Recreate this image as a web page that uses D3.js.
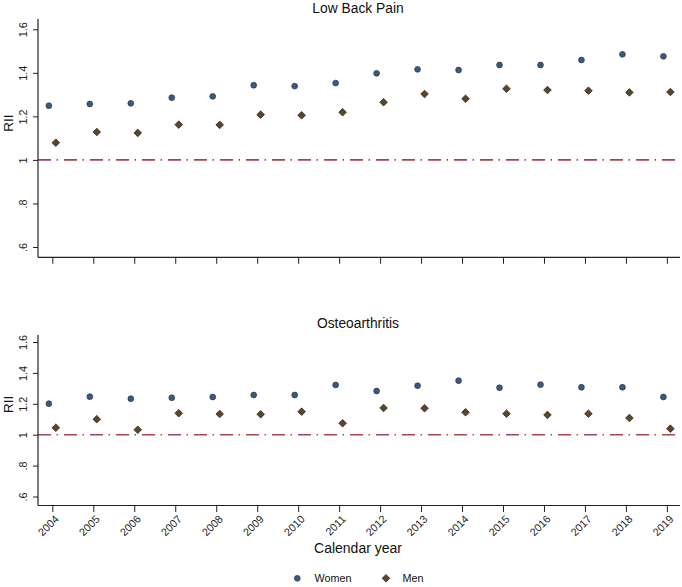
<!DOCTYPE html>
<html>
<head>
<meta charset="utf-8">
<script src="https://cdn.jsdelivr.net/npm/d3@7"></script>
<style>
  body { margin: 0; background: #fff; }
  svg { display: block; font-family: "Liberation Sans", Arial, Helvetica, sans-serif; }
</style>
</head>
<body>
<svg id="chart" width="682" height="587"></svg>
<script>
const years = [2004,2005,2006,2007,2008,2009,2010,2011,2012,2013,2014,2015,2016,2017,2018,2019];
const yTicks = [0.6, 0.8, 1.0, 1.2, 1.4, 1.6];
const yTickLabels = [".6", ".8", "1", "1.2", "1.4", "1.6"];
const panelTitles = ["Low Back Pain", "Osteoarthritis"];
const seriesNames = ["Women", "Men"];

const lbpWomen = [1.249,1.257,1.260,1.286,1.292,1.343,1.339,1.353,1.398,1.416,1.413,1.436,1.436,1.459,1.485,1.476];
const lbpMen   = [1.079,1.128,1.124,1.162,1.161,1.208,1.205,1.219,1.265,1.303,1.281,1.327,1.321,1.318,1.310,1.312];
const oaWomen  = [1.201,1.246,1.233,1.239,1.244,1.257,1.257,1.322,1.283,1.317,1.350,1.304,1.324,1.307,1.307,1.244];
const oaMen    = [1.045,1.100,1.032,1.139,1.134,1.132,1.149,1.074,1.173,1.171,1.145,1.136,1.128,1.136,1.108,1.039];

const svg = d3.select("#chart");
const womenFill = "#3b5b7e", womenStroke = "#1f3550";
const menFill = "#5a472a", menStroke = "#2a2010";
const refColor = "#a8444e";

const x = d3.scaleLinear().domain([2003.65, 2019.32]).range([38, 680]);
const offset = 0.085;

const panels = [
  { title: panelTitles[0], women: lbpWomen, men: lbpMen, top: 19, bottom: 257.3,
    y: d3.scaleLinear().domain([0.6, 1.6]).range([247, 29.3]), titleY: 12.5, labels: false },
  { title: panelTitles[1], women: oaWomen, men: oaMen, top: 335, bottom: 505.5,
    y: d3.scaleLinear().domain([0.6, 1.6]).range([496.5, 342]), titleY: 328, labels: true }
];

panels.forEach(p => {
  const g = svg.append("g");
  g.append("text").attr("x", 358).attr("y", p.titleY).attr("text-anchor", "middle")
    .attr("font-size", 13.8).attr("fill", "#111").text(p.title);

  g.append("line").attr("x1", x.range()[0]).attr("x2", x.range()[1])
    .attr("y1", p.y(1)).attr("y2", p.y(1))
    .attr("stroke", refColor).attr("stroke-width", 1.6)
    .attr("stroke-dasharray", "13,5.5,1.5,6");

  const yAxis = d3.axisLeft(p.y).tickValues(yTicks).tickSize(5).tickPadding(10)
    .tickFormat((d, i) => yTickLabels[i]);
  const ya = g.append("g").attr("transform", `translate(${x.range()[0]},0)`).call(yAxis);
  ya.select(".domain").remove();
  ya.append("line").attr("x1", 0).attr("x2", 0).attr("y1", p.top).attr("y2", p.bottom)
    .attr("stroke", "#222").attr("stroke-width", 1.2);
  ya.selectAll(".tick line").attr("stroke", "#222");
  ya.selectAll(".tick text")
    .attr("font-size", 10.8).attr("fill", "#222")
    .attr("text-anchor", "middle")
    .attr("x", 0).attr("y", 0).attr("dy", "0.36em")
    .attr("transform", "translate(-15,0) rotate(-90)");

  g.append("text").attr("transform", `translate(12.5,${(p.y(1.6)+p.y(0.6))/2 - 15}) rotate(-90)`)
    .attr("text-anchor", "middle").attr("font-size", 13.5).attr("fill", "#111").text("RII");

  const xAxis = d3.axisBottom(x).tickValues(years).tickSize(6.5).tickPadding(4)
    .tickFormat(d3.format("d"));
  const xa = g.append("g").attr("transform", `translate(0,${p.bottom})`).call(xAxis);
  xa.select(".domain").remove();
  xa.append("line").attr("x1", x.range()[0]).attr("x2", x.range()[1]).attr("y1", 0).attr("y2", 0)
    .attr("stroke", "#222").attr("stroke-width", 1.2);
  xa.selectAll(".tick line").attr("stroke", "#222");
  if (p.labels) {
    xa.selectAll(".tick text")
      .attr("font-size", 10.8).attr("fill", "#222")
      .attr("text-anchor", "end").attr("dy", "0.36em").attr("y", 0).attr("x", 0)
      .attr("transform", "translate(4,11.5) rotate(-45)");
  } else {
    xa.selectAll(".tick text").remove();
  }

  g.selectAll(".w").data(p.women).join("circle")
    .attr("cx", (d, i) => x(years[i] - offset)).attr("cy", d => p.y(d))
    .attr("r", 2.9).attr("fill", womenFill).attr("stroke", womenStroke).attr("stroke-width", 0.7);
  const diamond = d3.symbol().type(d3.symbolSquare).size(29);
  g.selectAll(".m").data(p.men).join("path")
    .attr("d", diamond)
    .attr("transform", (d, i) => `translate(${x(years[i] + offset)},${p.y(d)}) rotate(45)`)
    .attr("fill", menFill).attr("stroke", menStroke).attr("stroke-width", 0.7);
});

svg.append("text").attr("x", 358).attr("y", 553).attr("text-anchor", "middle")
  .attr("font-size", 14).attr("fill", "#111").text("Calendar year");

const leg = svg.append("g");
leg.append("circle").attr("cx", 297.3).attr("cy", 578.3).attr("r", 2.9)
  .attr("fill", womenFill).attr("stroke", womenStroke).attr("stroke-width", 0.7);
leg.append("text").attr("x", 314.5).attr("y", 582.3).attr("font-size", 10.8).attr("fill", "#111").text(seriesNames[0]);
leg.append("path").attr("d", d3.symbol().type(d3.symbolSquare).size(29))
  .attr("transform", "translate(386,578.3) rotate(45)")
  .attr("fill", menFill).attr("stroke", menStroke).attr("stroke-width", 0.7);
leg.append("text").attr("x", 402.5).attr("y", 582.3).attr("font-size", 10.8).attr("fill", "#111").text(seriesNames[1]);
</script>
</body>
</html>
